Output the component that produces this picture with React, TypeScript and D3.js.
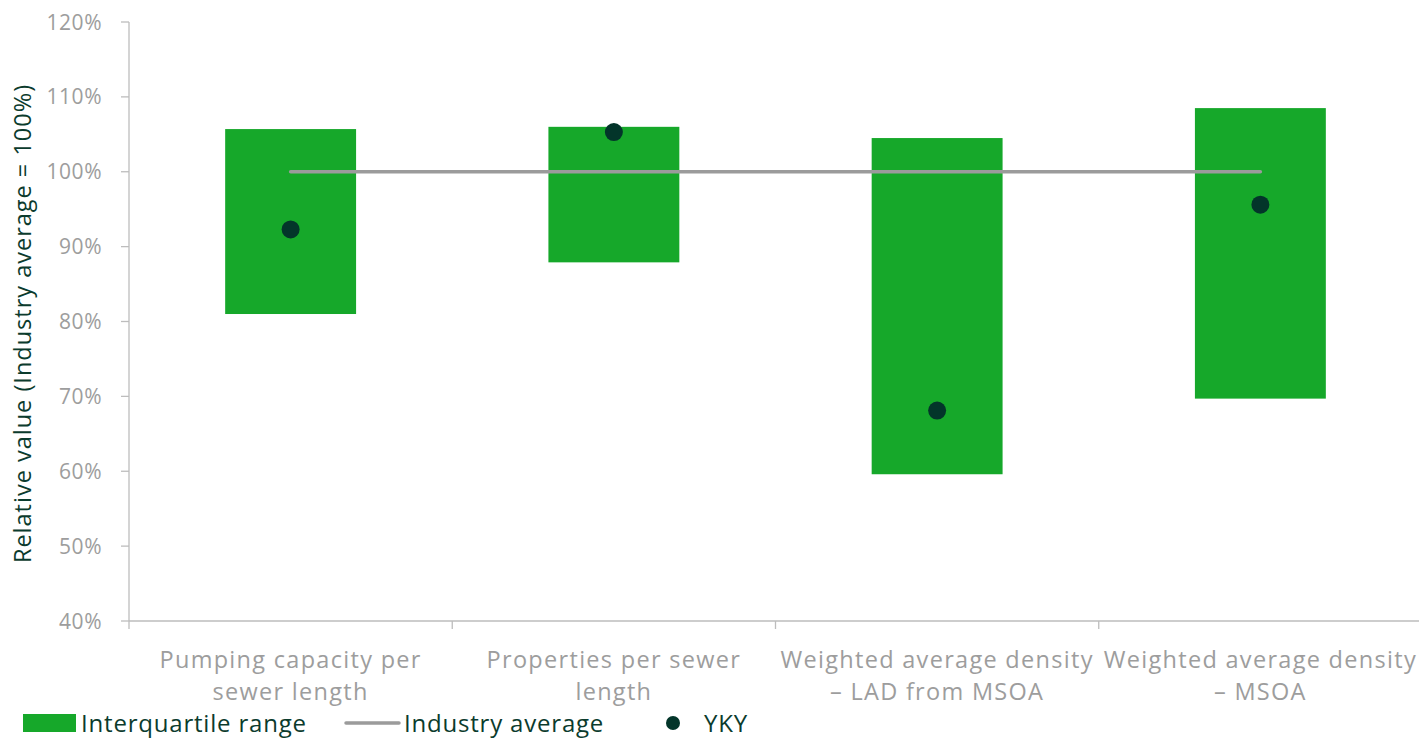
import React from "react";
import * as d3 from "d3";

const categories = [
  ["Pumping capacity per", "sewer length"],
  ["Properties per sewer", "length"],
  ["Weighted average density", "– LAD from MSOA"],
  ["Weighted average density", "– MSOA"],
];
const iqrLow = [81.0, 87.9, 59.6, 69.7];
const iqrHigh = [105.7, 106.0, 104.5, 108.5];
const industryAverage = [100, 100, 100, 100];
const yky = [92.3, 105.3, 68.1, 95.6];
const yTicks = [40, 50, 60, 70, 80, 90, 100, 110, 120];

const W = 1419;
const H = 739;
const FONT = "'Open Sans', 'Noto Sans', sans-serif";
const GREEN = "#16a82a";
const DARK = "#03352a";
const TEXT_DARK = "#0b3b2d";
const GREY_TEXT = "#9d9d9d";
const AXIS = "#bdbdbd";
const AVG = "#9b9b9b";

export default function App() {
  const keys = categories.map((_, i) => String(i));
  const x = d3.scaleBand<string>().domain(keys).range([129, 1422]).paddingInner(0).paddingOuter(0);
  const y = d3.scaleLinear().domain([40, 120]).range([621, 22]);
  const bw = x.bandwidth();
  const barW = bw * 0.405;
  const cx = (i: number) => (x(String(i)) as number) + bw / 2;

  const avgLine = d3
    .line<number>()
    .x((_, i) => cx(i))
    .y((d) => y(d));

  return (
    <svg
      width={W}
      height={H}
      style={{ position: "absolute", left: 0, top: 0, fontFamily: FONT }}
    >
      {/* y axis */}
      <line x1={129} x2={129} y1={y(120)} y2={629} stroke={AXIS} strokeWidth={1.3} />
      {yTicks.map((t) => (
        <g key={t}>
          <line x1={121} x2={129} y1={y(t)} y2={y(t)} stroke={AXIS} strokeWidth={1.3} />
          <text
            x={102}
            y={y(t)}
            dy="0.36em"
            textAnchor="end"
            fontSize={21}
            letterSpacing={0.5}
            fill={GREY_TEXT}
          >
            {t}%
          </text>
        </g>
      ))}
      <text
        transform={`translate(31,${(y(40) + y(120)) / 2 + 2}) rotate(-90)`}
        textAnchor="middle"
        fontSize={23.5}
        letterSpacing={1}
        fill={TEXT_DARK}
      >
        Relative value (Industry average = 100%)
      </text>

      {/* x axis */}
      <line x1={129} x2={W} y1={y(40)} y2={y(40)} stroke={AXIS} strokeWidth={1.3} />
      {keys.slice(1).map((k) => (
        <line
          key={k}
          x1={x(k) as number}
          x2={x(k) as number}
          y1={y(40)}
          y2={629}
          stroke={AXIS}
          strokeWidth={1.3}
        />
      ))}
      {categories.map((lines, i) => (
        <text key={i} textAnchor="middle" fontSize={23.5} letterSpacing={1.3} fill={GREY_TEXT}>
          {lines.map((l, j) => (
            <tspan key={j} x={cx(i)} y={668 + j * 32}>
              {l}
            </tspan>
          ))}
        </text>
      ))}

      {/* interquartile range bars */}
      {categories.map((_, i) => (
        <rect
          key={i}
          x={cx(i) - barW / 2}
          width={barW}
          y={y(iqrHigh[i])}
          height={y(iqrLow[i]) - y(iqrHigh[i])}
          fill={GREEN}
        />
      ))}

      {/* industry average */}
      <path
        d={avgLine(industryAverage) as string}
        fill="none"
        stroke={AVG}
        strokeWidth={3.5}
        strokeLinecap="round"
      />

      {/* YKY points */}
      {yky.map((v, i) => (
        <circle key={i} cx={cx(i)} cy={y(v)} r={9} fill={DARK} />
      ))}

      {/* legend */}
      <g fontSize={24} letterSpacing={0.8} fill={TEXT_DARK}>
        <rect x={23} y={714} width={53} height={18} fill={GREEN} />
        <text x={81} y={732}>Interquartile range</text>
        <line x1={346} x2={399} y1={723} y2={723} stroke={AVG} strokeWidth={3.5} strokeLinecap="round" />
        <text x={404} y={732}>Industry average</text>
        <circle cx={673} cy={723} r={7} fill={DARK} />
        <text x={704} y={732}>YKY</text>
      </g>
    </svg>
  );
}
